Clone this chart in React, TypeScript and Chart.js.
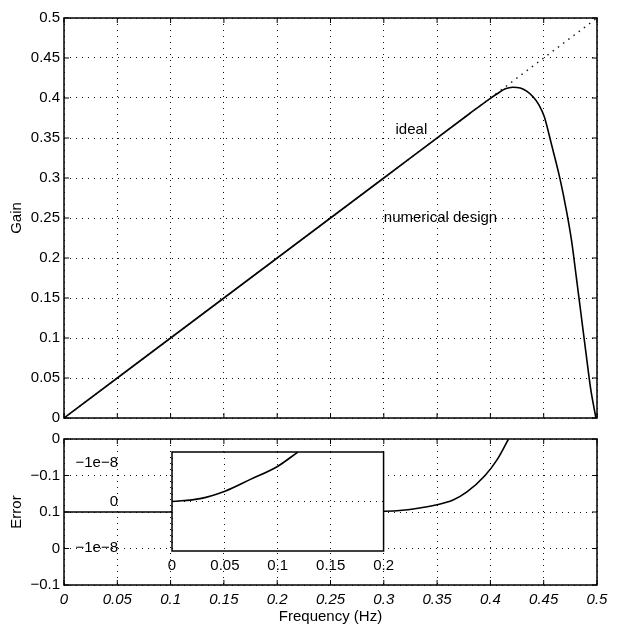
import React, { useEffect, useRef } from 'react';
import { Chart, registerables } from 'chart.js';
Chart.register(...registerables);

const FONT = '"Liberation Sans", Arial, Helvetica, sans-serif';

// ---- data ----
const X_TICKS = [0, 0.05, 0.1, 0.15, 0.2, 0.25, 0.3, 0.35, 0.4, 0.45, 0.5];
const X_TICK_LABELS = ['0', '0.05', '0.1', '0.15', '0.2', '0.25', '0.3', '0.35', '0.4', '0.45', '0.5'];

const GAIN_TICKS = [0, 0.05, 0.1, 0.15, 0.2, 0.25, 0.3, 0.35, 0.4, 0.45, 0.5];
const GAIN_TICK_LABELS = ['0', '0.05', '0.1', '0.15', '0.2', '0.25', '0.3', '0.35', '0.4', '0.45', '0.5'];

const IDEAL_FREQ = [0, 0.5];
const IDEAL_GAIN = [0, 0.5];

const DESIGN_FREQ = [0, 0.1, 0.2, 0.3, 0.38, 0.4, 0.406, 0.414, 0.421, 0.428, 0.434, 0.44, 0.4455, 0.4505, 0.4574, 0.4652, 0.4715, 0.4761, 0.4805, 0.485, 0.4895, 0.494, 0.499];
const DESIGN_GAIN = [0, 0.1, 0.2, 0.3, 0.38, 0.3996, 0.405, 0.4115, 0.4135, 0.4125, 0.4085, 0.4015, 0.3915, 0.377, 0.3415, 0.2995, 0.258, 0.222, 0.177, 0.13, 0.083, 0.037, 0];

const ERR_TICKS = [0, -1, -2, -3, -4];
const ERR_TICK_LABELS = ['0', '\u22120.1', '0.1', '0', '\u22120.1'];
const ERR_FREQ = [0, 0.1, 0.2, 0.3, 0.315, 0.35, 0.365, 0.378, 0.395, 0.406, 0.417];
const ERR_VALUE = [-2, -2, -2, -1.98, -1.96, -1.8, -1.67, -1.45, -1.0, -0.58, 0];

const INSET_X_TICKS = [0, 0.05, 0.1, 0.15, 0.2];
const INSET_X_LABELS = ['0', '0.05', '0.1', '0.15', '0.2'];
const INSET_Y_TICKS = [0.93, 0, -1.12];
const INSET_Y_LABELS = ['\u22121e\u22128', '0', '\u22121e\u22128'];
const INSET_FREQ = [0, 0.0266, 0.05, 0.0736, 0.0997, 0.119];
const INSET_ERR = [0, 0.07, 0.25, 0.53, 0.85, 1.2];

const NOTE_TEXT = ['ideal', 'numerical design'];
const NOTE_FREQ = [0.311, 0.3];
const NOTE_GAIN = [0.36, 0.25];

const pts = (xs: number[], ys: number[]) => xs.map((x, i) => ({ x, y: ys[i] }));

// ---- plugins ----
const framePlugin = {
  id: 'frame',
  afterDatasetsDraw(chart: any, _a: any, opts: any) {
    const { ctx, chartArea: a, scales } = chart;
    ctx.save();
    ctx.strokeStyle = '#000';
    if (opts.ticks) {
      const L = 5;
      ctx.lineWidth = 1;
      ctx.beginPath();
      scales.x.ticks.forEach((t: any) => {
        const p = scales.x.getPixelForValue(t.value);
        ctx.moveTo(p, a.bottom); ctx.lineTo(p, a.bottom - L);
        ctx.moveTo(p, a.top); ctx.lineTo(p, a.top + L);
      });
      scales.y.ticks.forEach((t: any) => {
        const p = scales.y.getPixelForValue(t.value);
        ctx.moveTo(a.left, p); ctx.lineTo(a.left + L, p);
        ctx.moveTo(a.right, p); ctx.lineTo(a.right - L, p);
      });
      ctx.stroke();
    }
    ctx.lineWidth = opts.lineWidth || 1.5;
    ctx.strokeRect(a.left, a.top, a.right - a.left, a.bottom - a.top);
    ctx.restore();
  },
};

const whiteAreaPlugin = {
  id: 'whiteArea',
  beforeDraw(chart: any, _a: any, opts: any) {
    if (!opts.enabled) return;
    const { ctx, chartArea: a } = chart;
    ctx.save();
    ctx.fillStyle = '#fff';
    ctx.fillRect(a.left, a.top, a.right - a.left, a.bottom - a.top);
    ctx.restore();
  },
};

const notesPlugin = {
  id: 'notes',
  afterDatasetsDraw(chart: any, _a: any, opts: any) {
    if (!opts.text) return;
    const { ctx, scales } = chart;
    ctx.save();
    ctx.fillStyle = '#000';
    ctx.font = `15px ${FONT}`;
    ctx.textAlign = 'left';
    ctx.textBaseline = 'middle';
    opts.text.forEach((t: string, i: number) => {
      ctx.fillText(t, scales.x.getPixelForValue(opts.xs[i]), scales.y.getPixelForValue(opts.ys[i]));
    });
    ctx.restore();
  },
};

const dottedGrid = (extra: any = {}) => ({
  color: '#111',
  lineWidth: 1,
  drawTicks: false,
  ...extra,
});
const dottedBorder = { display: false, dash: [1, 5] };

const fixWidth = (w: number) => (s: any) => {
  s.width = w;
  s.paddingTop = 0;
  s.paddingBottom = 0;
};

function useChart(ref: React.RefObject<HTMLCanvasElement>, make: () => any) {
  useEffect(() => {
    if (!ref.current) return;
    const chart = new Chart(ref.current, make());
    return () => chart.destroy();
  }, []);
}

function TopChart() {
  const ref = useRef<HTMLCanvasElement>(null);
  useChart(ref, () => ({
    type: 'line',
    data: {
      datasets: [
        {
          data: pts(IDEAL_FREQ, IDEAL_GAIN),
          borderColor: '#111',
          borderWidth: 1.4,
          borderDash: [1.5, 5],
          pointRadius: 0,
        },
        {
          data: pts(DESIGN_FREQ, DESIGN_GAIN),
          borderColor: '#000',
          borderWidth: 1.6,
          pointRadius: 0,
          cubicInterpolationMode: 'monotone',
        },
      ],
    },
    options: {
      animation: false,
      responsive: false,
      devicePixelRatio: 1,
      layout: { padding: { left: 0, right: 24, top: 18, bottom: 0 } },
      plugins: {
        legend: { display: false },
        tooltip: { enabled: false },
        frame: { ticks: true, lineWidth: 1.5 },
        notes: { text: NOTE_TEXT, xs: NOTE_FREQ, ys: NOTE_GAIN },
      },
      scales: {
        x: {
          type: 'linear',
          min: 0,
          max: 0.5,
          afterBuildTicks: (s: any) => { s.ticks = X_TICKS.map((v) => ({ value: v })); },
          afterFit: (s: any) => { s.height = 12; },
          ticks: { display: false },
          grid: dottedGrid(),
          border: dottedBorder,
        },
        y: {
          type: 'linear',
          min: 0,
          max: 0.5,
          afterBuildTicks: (s: any) => { s.ticks = GAIN_TICKS.map((v) => ({ value: v })); },
          afterFit: fixWidth(64),
          ticks: {
            padding: 4,
            color: '#000',
            font: { family: FONT, size: 15 },
            callback: (_v: any, i: number) => GAIN_TICK_LABELS[i],
          },
          title: { display: true, text: 'Gain', color: '#000', font: { family: FONT, size: 15 }, padding: { top: 8, bottom: 0 } },
          grid: dottedGrid(),
          border: dottedBorder,
        },
      },
    },
    plugins: [framePlugin, notesPlugin],
  }));
  return <canvas ref={ref} width={621} height={430} style={{ position: 'absolute', left: 0, top: 0, width: 621, height: 430 }} />;
}

function ErrorChart() {
  const ref = useRef<HTMLCanvasElement>(null);
  useChart(ref, () => ({
    type: 'line',
    data: {
      datasets: [
        {
          data: pts(ERR_FREQ, ERR_VALUE),
          borderColor: '#000',
          borderWidth: 1.6,
          pointRadius: 0,
          cubicInterpolationMode: 'monotone',
        },
      ],
    },
    options: {
      animation: false,
      responsive: false,
      devicePixelRatio: 1,
      layout: { padding: { left: 0, right: 24, top: 9, bottom: 0 } },
      plugins: {
        legend: { display: false },
        tooltip: { enabled: false },
        frame: { ticks: true, lineWidth: 1.5 },
      },
      scales: {
        x: {
          type: 'linear',
          min: 0,
          max: 0.5,
          afterBuildTicks: (s: any) => { s.ticks = X_TICKS.map((v) => ({ value: v })); },
          afterFit: (s: any) => { s.height = 41; },
          ticks: {
            padding: 6,
            color: '#000',
            maxRotation: 0,
            autoSkip: false,
            font: { family: FONT, size: 15, style: 'italic' },
            callback: (_v: any, i: number) => X_TICK_LABELS[i],
          },
          title: { display: true, text: 'Frequency (Hz)', color: '#000', font: { family: FONT, size: 15 }, padding: { top: 0, bottom: 0 } },
          grid: dottedGrid(),
          border: dottedBorder,
        },
        y: {
          type: 'linear',
          min: -4,
          max: 0,
          afterBuildTicks: (s: any) => { s.ticks = ERR_TICKS.map((v) => ({ value: v })); },
          afterFit: fixWidth(64),
          ticks: {
            padding: 4,
            color: '#000',
            font: { family: FONT, size: 15 },
            callback: (_v: any, i: number) => ERR_TICK_LABELS[i],
          },
          title: { display: true, text: 'Error', color: '#000', font: { family: FONT, size: 15 }, padding: { top: 8, bottom: 0 } },
          grid: dottedGrid(),
          border: dottedBorder,
        },
      },
    },
    plugins: [framePlugin],
  }));
  return <canvas ref={ref} width={621} height={196} style={{ position: 'absolute', left: 0, top: 430, width: 621, height: 196 }} />;
}

function InsetChart() {
  const ref = useRef<HTMLCanvasElement>(null);
  useChart(ref, () => ({
    type: 'line',
    data: {
      datasets: [
        {
          data: pts(INSET_FREQ, INSET_ERR),
          borderColor: '#000',
          borderWidth: 1.6,
          pointRadius: 0,
          cubicInterpolationMode: 'monotone',
        },
      ],
    },
    options: {
      animation: false,
      responsive: false,
      devicePixelRatio: 1,
      layout: { padding: { left: 0, right: 16, top: 12, bottom: 0 } },
      plugins: {
        legend: { display: false },
        tooltip: { enabled: false },
        frame: { ticks: false, lineWidth: 1.5 },
        whiteArea: { enabled: true },
      },
      scales: {
        x: {
          type: 'linear',
          min: 0,
          max: 0.2,
          afterBuildTicks: (s: any) => { s.ticks = INSET_X_TICKS.map((v) => ({ value: v })); },
          afterFit: (s: any) => { s.height = 29; },
          ticks: {
            padding: 6,
            color: '#000',
            maxRotation: 0,
            autoSkip: false,
            font: { family: FONT, size: 15 },
            callback: (_v: any, i: number) => INSET_X_LABELS[i],
          },
          grid: dottedGrid(),
          border: dottedBorder,
        },
        y: {
          type: 'linear',
          min: -1.2,
          max: 1.2,
          afterBuildTicks: (s: any) => { s.ticks = INSET_Y_TICKS.map((v) => ({ value: v })); },
          afterFit: fixWidth(112),
          ticks: {
            padding: 54,
            color: '#000',
            font: { family: FONT, size: 15 },
            callback: (_v: any, i: number) => INSET_Y_LABELS[i],
          },
          grid: dottedGrid({
            color: (c: any) => (c.tick && c.tick.value === 0 ? '#111' : 'rgba(0,0,0,0)'),
          }),
          border: dottedBorder,
        },
      },
    },
    plugins: [whiteAreaPlugin, framePlugin],
  }));
  return <canvas ref={ref} width={340} height={140} style={{ position: 'absolute', left: 60, top: 440, width: 340, height: 140 }} />;
}

export default function App() {
  return (
    <div style={{ position: 'absolute', left: 0, top: 0, width: 621, height: 626, background: '#fff', overflow: 'hidden' }}>
      <TopChart />
      <ErrorChart />
      <InsetChart />
    </div>
  );
}
